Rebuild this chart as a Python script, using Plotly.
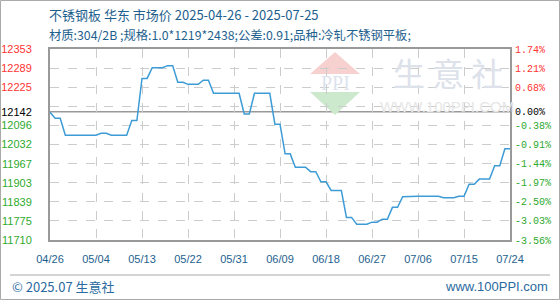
import plotly.graph_objects as go

# ---------------- data ----------------
x_tick_labels = ["04/26", "05/04", "05/13", "05/22", "05/31", "06/09",
                 "06/18", "06/27", "07/06", "07/15", "07/24"]
prices = [12140, 12120, 12120, 12063, 12063, 12063, 12063, 12063, 12063, 12063,
          12069, 12069, 12063, 12063, 12063, 12063, 12112, 12112, 12254, 12254,
          12290, 12290, 12290, 12297, 12297, 12241, 12241, 12234, 12234, 12234,
          12248, 12248, 12204, 12204, 12204, 12204, 12204, 12204, 12134, 12134,
          12204, 12204, 12204, 12204, 12100, 12100, 12000, 12000, 11955, 11955,
          11955, 11940, 11940, 11906, 11906, 11877, 11877, 11877, 11786, 11786,
          11763, 11763, 11763, 11770, 11770, 11780, 11780, 11820, 11820, 11856,
          11857, 11857, 11857, 11857, 11857, 11857, 11857, 11852, 11852, 11852,
          11857, 11857, 11898, 11898, 11915, 11915, 11915, 11960, 11960, 12017,
          12017]
base_value = 12142
y_label_vals = [12353, 12289, 12225, 12142, 12096, 12032, 11967, 11903, 11839, 11775, 11710]
pct_labels = ["1.74%", "1.21%", "0.68%", "0.00%", "-0.38%", "-0.91%",
              "-1.44%", "-1.97%", "-2.50%", "-3.03%", "-3.56%"]
y_min, y_max = 11710, 12353
grid_vals = [y_min + k * (y_max - y_min) / 10 for k in range(11)]

title_text = "不锈钢板 华东 市场价 2025-04-26 - 2025-07-25"
sub_text = "材质:304/2B ;规格:1.0*1219*2438;公差:0.91;品种:冷轧不锈钢平板;"

# ---------------- style ----------------
W, H = 560, 300
ML, MR, MT, MB = 50, 50, 49, 60
PW, PH = W - ML - MR, H - MT - MB
RED, GREEN, BLACK = "#ff3333", "#2eaa2e", "#000000"
BLUE_TXT = "#1e5f8e"
LINE = "#3d9bd6"


def col(v):
    if v > base_value:
        return RED
    if v < base_value:
        return GREEN
    return BLACK


def px(xp):
    return (xp - ML) / PW


def py(yp):
    return (H - MB - yp) / PH


xs = list(range(len(prices)))
tick_idx = [round(k * (len(prices) - 1) / (len(x_tick_labels) - 1)) for k in range(len(x_tick_labels))]

left_text = [f"<span style='color:{col(v)}'>{v}</span>" for v in y_label_vals]
right_text = [f"<span style='color:{col(v)}'>{t}</span>" for v, t in zip(y_label_vals, pct_labels)]

fig = go.Figure()
fig.add_trace(go.Scatter(x=xs, y=prices, mode="lines",
                         line=dict(color=LINE, width=1.5), yaxis="y", hoverinfo="skip"))
fig.add_trace(go.Scatter(x=[xs[0]], y=[prices[0]], mode="markers", marker=dict(opacity=0),
                         yaxis="y2", hoverinfo="skip"))
fig.add_trace(go.Scatter(x=[xs[0]], y=[prices[0]], mode="markers", marker=dict(opacity=0),
                         yaxis="y3", hoverinfo="skip"))

fig.update_layout(
    width=W, height=H, margin=dict(l=ML, r=MR, t=MT, b=MB, autoexpand=False),
    paper_bgcolor="white", plot_bgcolor="white", showlegend=False,
    xaxis=dict(range=[0, len(prices) - 1], tickvals=tick_idx, ticktext=x_tick_labels,
               showgrid=True, gridcolor="#cccccc", griddash="dash", gridwidth=1,
               zeroline=False, showline=True, linecolor="#999999", linewidth=2, mirror=True,
               ticks="", ticklabelstandoff=8,
               tickfont=dict(family="Liberation Sans", size=11, color=BLUE_TXT)),
    yaxis=dict(range=[y_min, y_max], tickvals=y_label_vals, ticktext=left_text,
               showgrid=False, zeroline=False, showline=True, linecolor="#999999",
               linewidth=2, mirror=True, ticks="", ticklabelstandoff=14,
               tickfont=dict(family="Liberation Sans", size=11)),
    yaxis2=dict(range=[y_min, y_max], tickvals=y_label_vals, ticktext=right_text,
                overlaying="y", side="right", showgrid=False, zeroline=False,
                ticks="", ticklabelstandoff=4,
                tickfont=dict(family="Liberation Mono", size=10)),
    yaxis3=dict(range=[y_min, y_max], tickvals=grid_vals, overlaying="y",
                showticklabels=False, showgrid=True, gridcolor="#cccccc",
                griddash="dash", gridwidth=1, zeroline=False, layer="below traces"),
)

shapes = []
shapes.append(dict(type="line", xref="paper", yref="y", x0=0, x1=1, y0=base_value, y1=base_value,
                   line=dict(color="#999999", width=1.5), layer="below"))
shapes.append(dict(type="rect", xref="paper", yref="paper", x0=px(0.5), x1=px(W - 0.5),
                   y0=py(H - 0.5), y1=py(0.5), line=dict(color="#aaaaaa", width=1), layer="below"))
shapes.append(dict(type="line", xref="paper", yref="paper", x0=px(10), x1=px(550),
                   y0=py(275), y1=py(275), line=dict(color="#aaaaaa", width=1)))
shapes.append(dict(type="path", xref="paper", yref="paper",
                   path=f"M {px(335)} {py(52)} L {px(310)} {py(74)} L {px(360)} {py(74)} Z",
                   fillcolor="#f7d0d0", line=dict(width=0), layer="below"))
shapes.append(dict(type="path", xref="paper", yref="paper",
                   path=f"M {px(335)} {py(115)} L {px(310)} {py(92)} L {px(360)} {py(92)} Z",
                   fillcolor="#cde9cd", line=dict(width=0), layer="below"))
fig.update_layout(shapes=shapes)

ann = []
ann.append(dict(text="PPI", xref="paper", yref="paper", x=px(335), y=py(83), showarrow=False,
                font=dict(family="Liberation Serif", size=20, color="#dde3ec"), xanchor="center", yanchor="middle"))
ann.append(dict(text="生 意 社", xref="paper", yref="paper", x=px(448), y=py(72), showarrow=False,
                font=dict(family="Noto Sans CJK SC", size=32, color="#dce1ea"), xanchor="center", yanchor="middle"))
ann.append(dict(text="WWW.100PPI.COM", xref="paper", yref="paper", x=px(447), y=py(106), showarrow=False,
                font=dict(family="Liberation Sans", size=15, color="#e6e6e6"), xanchor="center", yanchor="middle"))
ann.append(dict(text=title_text, xref="paper", yref="paper", x=px(47), y=py(15), showarrow=False,
                font=dict(family="Noto Sans CJK SC", size=13, color=BLUE_TXT), xanchor="left", yanchor="middle"))
ann.append(dict(text=sub_text, xref="paper", yref="paper", x=px(47), y=py(35), showarrow=False,
                font=dict(family="Noto Sans CJK SC", size=12.3, color=BLUE_TXT), xanchor="left", yanchor="middle"))
ann.append(dict(text="© 2025.07 生意社", xref="paper", yref="paper", x=px(10), y=py(286), showarrow=False,
                font=dict(family="Noto Sans CJK SC", size=13, color="#2a6aa0"), xanchor="left", yanchor="middle"))
ann.append(dict(text="www.100PPI.com", xref="paper", yref="paper", x=px(550), y=py(286), showarrow=False,
                font=dict(family="Liberation Sans", size=13, color="#2a6aa0"), xanchor="right", yanchor="middle"))
fig.update_layout(annotations=ann)

fig.write_html("out.html")
